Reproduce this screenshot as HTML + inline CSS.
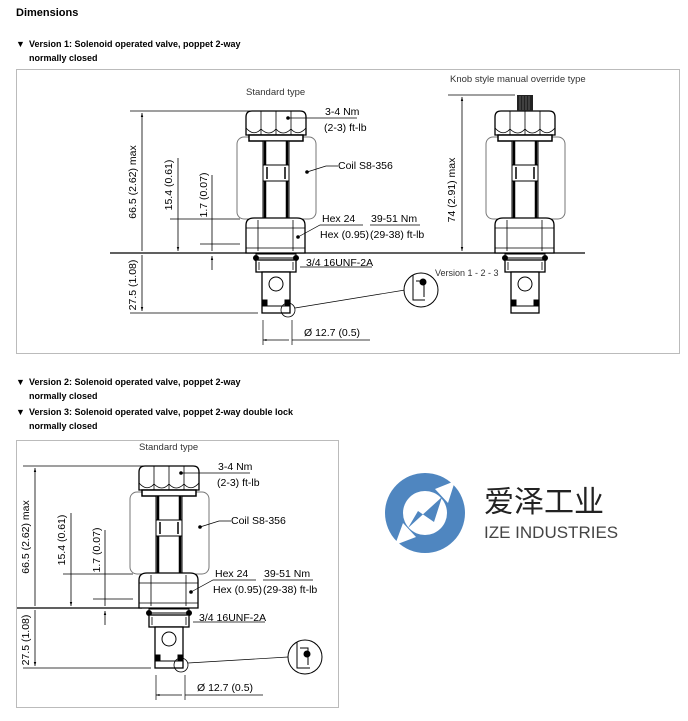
<!DOCTYPE html>
<html><head><meta charset="utf-8"><style>
body{margin:0;background:#fff;width:688px;height:721px;overflow:hidden;font-family:"Liberation Sans",sans-serif}
svg{position:absolute;left:0;top:0}
</style></head><body>
<svg width="688" height="721" viewBox="0 0 688 721" font-family="Liberation Sans, sans-serif">
<defs>
<marker id="a" viewBox="0 0 10 10" refX="10" refY="5" markerWidth="5" markerHeight="5" orient="auto-start-reverse"><path d="M0,2 L10,5 L0,8z" fill="#000"/></marker>
<g id="valve" stroke="#000" fill="none" stroke-width="1">
  <rect x="-39" y="-116" width="79" height="82" rx="7" stroke="#777" fill="#fff"/>
  <path d="M-30,-118 L-30,-136 Q-30,-142 -24,-142 L24,-142 Q30,-142 30,-136 L30,-118 Z" fill="#fff" stroke-width="1.3"/>
  <path d="M-15,-142 V-118 M0,-142 V-118 M15,-142 V-118 M-30,-125 Q-22,-116 -15,-124 Q-7,-116 0,-124 Q7,-116 15,-124 Q22,-116 30,-125" stroke-width="0.8"/>
  <rect x="-27" y="-118" width="54" height="6" fill="#fff" stroke-width="1.5"/>
  <rect x="-13" y="-112" width="26" height="78" fill="#fff"/>
  <path d="M-11,-112 V-34 M11,-112 V-34" stroke-width="2.5"/>
  <rect x="-13" y="-88" width="26" height="16" fill="#fff"/>
  <path d="M-9,-86 V-74 M9,-86 V-74" stroke-width="1.5"/>
  <path d="M-30,0 V-28 Q-30,-35 -22,-35 L21,-35 Q29,-35 29,-28 V0 Z" fill="#fff" stroke-width="1.3"/>
  <path d="M-18,-33 V-2 M17,-33 V-2 M-30,-25 H29 M-30,-5 H29" stroke-width="0.8"/>
  <rect x="-20" y="1" width="40" height="4" fill="#fff"/>
  <circle cx="-20" cy="5" r="2.5" fill="#000"/><circle cx="20" cy="5" r="2.5" fill="#000"/>
  <rect x="-20" y="7" width="40" height="12" fill="#fff" stroke-width="1.3"/>
  <path d="M-17,9 V17 M17,9 V17" stroke-width="0.8"/>
  <rect x="-14" y="19" width="28" height="41" fill="#fff" stroke-width="1.3"/>
  <circle cx="0" cy="31" r="7" fill="#fff"/>
  <rect x="-14" y="47" width="5" height="6" fill="#000"/><rect x="9" y="47" width="5" height="6" fill="#000"/>
  <path d="M-14,53 H14"/>
</g>
<g id="anno" font-size="10.5" fill="#000">
  <path d="M130,111 H252 M130,313 H258 M170,219 H240 M200,244 H240" stroke="#000" stroke-width="0.7"/>
  <path d="M142,113 V251 M142,255 V311" stroke="#000" stroke-width="0.8" marker-start="url(#a)" marker-end="url(#a)"/>
  <path d="M178,158 V251" stroke="#000" stroke-width="0.8" marker-end="url(#a)"/>
  <path d="M212,175 V251 M212,270 V256" stroke="#000" stroke-width="0.8" marker-end="url(#a)"/>
  <text transform="translate(136,182) rotate(-90)" text-anchor="middle">66.5 (2.62) max</text>
  <text transform="translate(172,185) rotate(-90)" text-anchor="middle">15.4 (0.61)</text>
  <text transform="translate(207,195) rotate(-90)" text-anchor="middle">1.7 (0.07)</text>
  <text transform="translate(136,285) rotate(-90)" text-anchor="middle">27.5 (1.08)</text>
  <g stroke="#000" stroke-width="0.7" fill="none">
    <path d="M288,118 H357"/>
    <path d="M307,172 L326,166 H338"/>
    <path d="M298,237 L320,225 H363 M370,225 H420"/>
    <path d="M300,267 H372"/>
    <path d="M263,320 V345 M292,320 V345"/>
    <path d="M289,340 H263" marker-end="url(#a)"/>
    <path d="M292,340 H370"/>
  </g>
  <circle cx="288" cy="118" r="1.8"/><circle cx="307" cy="172" r="1.8"/><circle cx="298" cy="237" r="1.8"/>
  <text x="325" y="115">3-4 Nm</text><text x="324" y="131">(2-3) ft-lb</text>
  <text x="338" y="169">Coil S8-356</text>
  <text x="322" y="222">Hex 24</text><text x="320" y="238">Hex (0.95)</text>
  <text x="371" y="222">39-51 Nm</text><text x="370" y="238">(29-38) ft-lb</text>
  <text x="306" y="266">3/4 16UNF-2A</text>
  <text x="304" y="336">Ø 12.7 (0.5)</text>
  <text x="246" y="95" font-size="9.5" fill="#333">Standard type</text>
</g>
</defs>
<text x="16" y="16" font-size="11" font-weight="bold">Dimensions</text>
<text x="16" y="47" font-size="9" font-weight="bold">▼</text>
<text x="29" y="47" font-size="9" font-weight="bold">Version 1: Solenoid operated valve, poppet 2-way</text>
<text x="29" y="61" font-size="9" font-weight="bold">normally closed</text>
<rect x="16.5" y="69.5" width="663" height="284" fill="none" stroke="#bbb"/>
<path d="M110,253 H585" stroke="#000" stroke-width="1.2"/>
<use href="#valve" transform="translate(276,253)"/>
<use href="#anno"/>
<circle cx="288" cy="310" r="7" fill="none" stroke="#000" stroke-width="0.8"/>
<path d="M295,308 L405,290" stroke="#000" stroke-width="0.7"/>
<circle cx="421" cy="290" r="17" fill="#fff" stroke="#000" stroke-width="1"/>
<path d="M413,275 V300 H425 M416,281 H424 V297" stroke="#000" fill="none"/>
<circle cx="423" cy="282" r="3.5" fill="#000"/>
<text x="435" y="276" font-size="9" fill="#333">Version 1 - 2 - 3</text>
<text x="450" y="82" font-size="9.5" fill="#333">Knob style manual override type</text>
<use href="#valve" transform="translate(525,253)"/>
<rect x="517" y="95" width="16" height="16" fill="#222"/>
<path d="M520,96 V110 M523,96 V110 M526,96 V110 M529,96 V110" stroke="#888" stroke-width="0.6"/>
<path d="M448,95 H515" stroke="#000" stroke-width="0.7"/>
<path d="M462,97 V251" stroke="#000" stroke-width="0.8" marker-start="url(#a)" marker-end="url(#a)"/>
<text transform="translate(455,190) rotate(-90)" text-anchor="middle" font-size="10.5">74 (2.91) max</text>

<text x="16" y="385" font-size="9" font-weight="bold">▼</text>
<text x="29" y="385" font-size="9" font-weight="bold">Version 2: Solenoid operated valve, poppet 2-way</text>
<text x="29" y="399" font-size="9" font-weight="bold">normally closed</text>
<text x="16" y="415" font-size="9" font-weight="bold">▼</text>
<text x="29" y="415" font-size="9" font-weight="bold">Version 3: Solenoid operated valve, poppet 2-way double lock</text>
<text x="29" y="429" font-size="9" font-weight="bold">normally closed</text>
<rect x="16.5" y="440.5" width="322" height="267" fill="none" stroke="#bbb"/>
<path d="M17,608 H142" stroke="#000" stroke-width="1.2"/>
<g transform="translate(-107,355)">
  <use href="#valve" transform="translate(276,253)"/>
  <use href="#anno"/>
  <circle cx="288" cy="310" r="7" fill="none" stroke="#000" stroke-width="0.8"/>
  <path d="M295,308 L395,302" stroke="#000" stroke-width="0.7"/>
</g>
<circle cx="305" cy="657" r="17" fill="#fff" stroke="#000"/>
<path d="M297,642 V668 H310 M300,648 H308 V665" stroke="#000" fill="none"/>
<circle cx="307" cy="654" r="3.5" fill="#000"/>
<circle cx="425" cy="513" r="40" fill="#4f86c0"/>
<circle cx="425" cy="513" r="22" fill="#fff"/>
<path d="M416,537 L395,545 L403,523 Z M435,489 L455,481 L448,503 Z" fill="#fff"/>
<path d="M408,528 L442,497 L434,522 L418,511 Z" fill="#4f86c0"/>
<text x="484" y="512" font-size="30" font-family="Noto Sans CJK SC, sans-serif" fill="#222">爱泽工业</text>
<text x="484" y="538" font-size="17" fill="#444">IZE INDUSTRIES</text>
</svg>
</body></html>
